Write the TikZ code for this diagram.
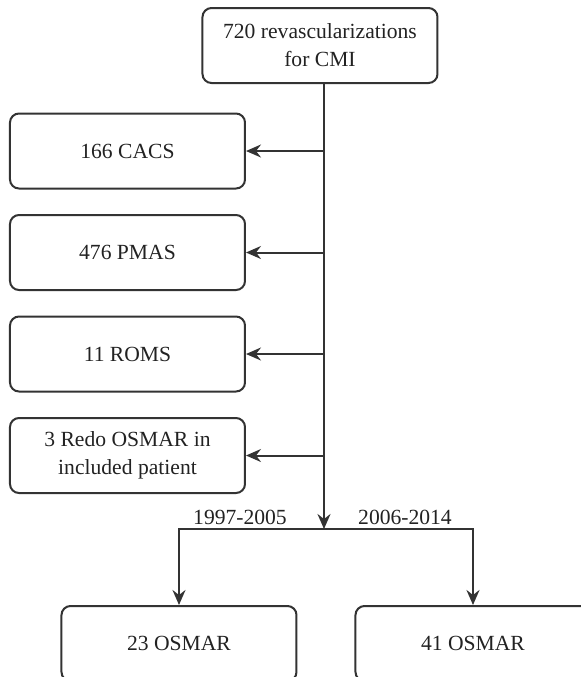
\documentclass[tikz,border=0pt]{standalone}
\usepackage{fontspec}
\setmainfont{Liberation Serif}
\usepackage{tikz}
\usetikzlibrary{positioning,arrows.meta}
\definecolor{linegray}{HTML}{333333}
\definecolor{textgray}{HTML}{222222}

\begin{document}
\begin{tikzpicture}[
    x=0.5pt, y=-0.5pt,
    font=\fontsize{10.8}{14}\selectfont,
    box/.style={draw=linegray, line width=1pt, rounded corners=4.5pt,
                minimum width=117.5pt, minimum height=37.5pt, align=center,
                text=textgray, inner sep=2pt},
    yr/.style={text=textgray, inner sep=1pt},
    op/.style={->, >={Stealth[length=7.5pt, width=6.5pt, inset=2.5pt]},
               draw=linegray, line width=1pt},
  ]
  \useasboundingbox (0,0) rectangle (581,677);
  \clip (0,0) rectangle (581,677);

  % --- source ---
  \node[box] (total) at (320,45.5) {720 revascularizations\\for CMI};

  % --- excluded, down the left ---
  \node[box] (cacs) at (127.5,151) {166 CACS};
  \node[box, below=12.25pt of cacs] (pmas) {476 PMAS};
  \node[box, below=12.25pt of pmas] (roms) {11 ROMS};
  \node[box, below=12.25pt of roms] (redo) {3 Redo OSMAR in\\included patient};

  % --- split by period ---
  \coordinate (split) at (324,529);
  \node[box] (early) at (179,643.5) {23 OSMAR};
  \node[box] (late) at (473,643.5) {41 OSMAR};
  \node[yr] (lblearly) at (240,517) {1997-2005};
  \node[yr] (lbllate) at (405,517) {2006-2014};

  \draw[op] (total.south -| split) -- (split);
  \foreach \n in {cacs,pmas,roms,redo}
    \draw[op] (\n.east -| split) -- (\n.east);
  \draw[op] (split) -| (early.north);
  \draw[op] (split) -| (late.north);
\end{tikzpicture}
\end{document}
